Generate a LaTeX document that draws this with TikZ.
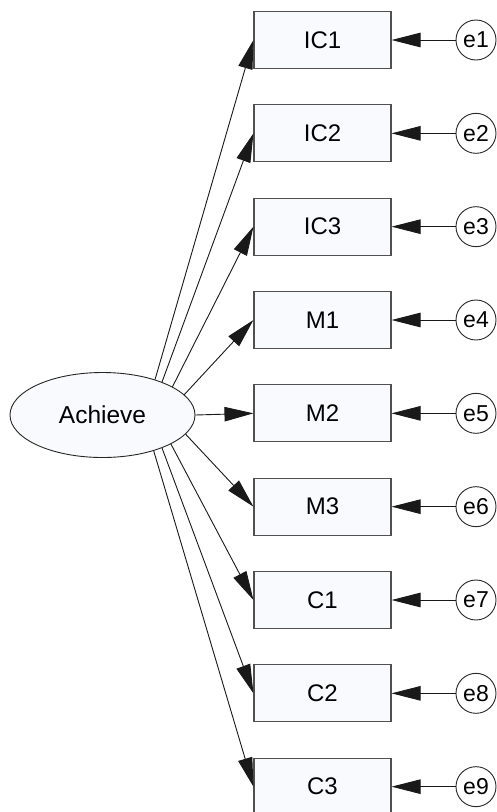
\documentclass[tikz,border=0pt]{standalone}
\usepackage{fontspec}
\setmainfont{Liberation Sans}
\usetikzlibrary{arrows.meta,shapes.geometric}
\definecolor{boxfill}{HTML}{F8FAFD}
\definecolor{boxline}{HTML}{505050}
\tikzset{
  obs/.style={draw=boxline, line width=1.1pt, fill=boxfill, minimum width=137pt, minimum height=57pt, inner sep=0pt, font=\fontsize{24}{28}\selectfont},
  lat/.style={ellipse, draw=black!85, line width=0.9pt, fill=boxfill, minimum width=185pt, minimum height=85pt, inner sep=0pt, font=\fontsize{24.5}{28}\selectfont},
  err/.style={circle, draw=black!85, line width=0.9pt, fill=white, minimum size=40pt, inner sep=0pt, font=\fontsize{23}{27}\selectfont},
  path/.style={draw=black!90, line width=0.9pt, -{Triangle[length=29pt,width=14.5pt]}}
}
\begin{document}
\begin{tikzpicture}[x=1pt,y=-1pt]
\clip (0,0) rectangle (497,812);
\fill[white] (0,0) rectangle (497,812);
\node[lat] (ach) at (102.5,415) {Achieve};
\foreach \n/\lab/\k in {ic1/IC1/0, ic2/IC2/1, ic3/IC3/2, m1/M1/3, m2/M2/4, m3/M3/5, c1/C1/6, c2/C2/7, c3/C3/8}{
  \node[obs] (\n) at (322.5, 40+93.333*\k) {\lab};
}
\foreach \n/\e/\k in {ic1/e1/0, ic2/e2/1, ic3/e3/2, m1/e4/3, m2/e5/4, m3/e6/5, c1/e7/6, c2/e8/7, c3/e9/8}{
  \node[err] (\e) at (476, 40+93.333*\k) {\e};
  \draw[path] (\e) -- (\n);
}
\draw[path] (ach.34) -- (ic1.west);
\draw[path] (ach.29) -- (ic2.west);
\draw[path] (ach.22.5) -- (ic3.west);
\draw[path] (ach.14) -- (m1.west);
\draw[path] (ach.east) -- (m2.west);
\draw[path] (ach.-13) -- (m3.west);
\draw[path] (ach.-23) -- (c1.west);
\draw[path] (ach.-29.5) -- (c2.west);
\draw[path] (ach.-35) -- (c3.west);
\end{tikzpicture}
\end{document}
